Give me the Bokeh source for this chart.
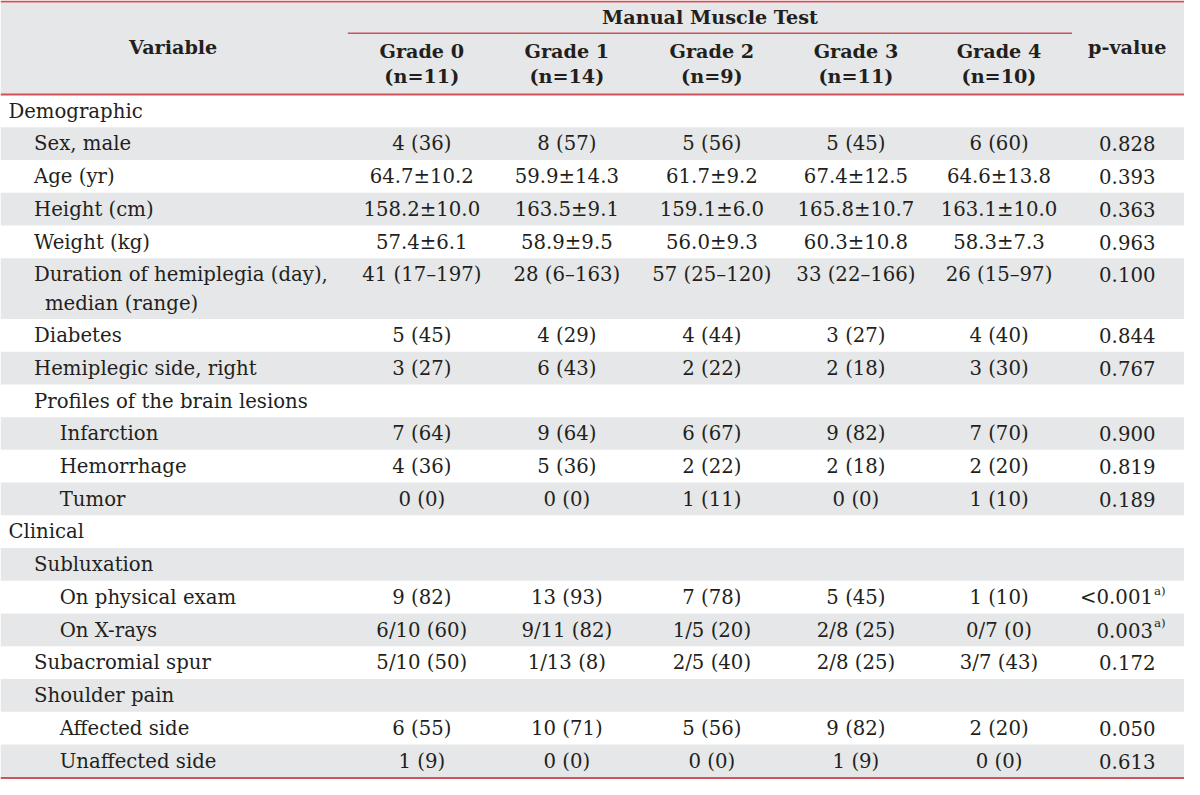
from bokeh.plotting import figure
from bokeh.models import Range1d, ColumnDataSource
from bokeh.core.properties import value
from bokeh.embed import file_html
from bokeh.resources import INLINE

# ---------------- data ----------------
labels = ["Demographic", "Sex, male", "Age (yr)", "Height (cm)", "Weight (kg)",
          "Duration of hemiplegia (day),\nmedian (range)", "Diabetes",
          "Hemiplegic side, right", "Profiles of the brain lesions",
          "Infarction", "Hemorrhage", "Tumor", "Clinical", "Subluxation",
          "On physical exam", "On X-rays", "Subacromial spur", "Shoulder pain",
          "Affected side", "Unaffected side"]
levels = [0, 1, 1, 1, 1, 1, 1, 1, 1, 2, 2, 2, 0, 1, 2, 2, 1, 1, 2, 2]

grade_headers = ["Grade 0", "Grade 1", "Grade 2", "Grade 3", "Grade 4"]
grade_n = ["(n=11)", "(n=14)", "(n=9)", "(n=11)", "(n=10)"]

grade0 = ["", "4 (36)", "64.7±10.2", "158.2±10.0", "57.4±6.1", "41 (17–197)", "5 (45)", "3 (27)", "",
          "7 (64)", "4 (36)", "0 (0)", "", "", "9 (82)", "6/10 (60)", "5/10 (50)", "", "6 (55)", "1 (9)"]
grade1 = ["", "8 (57)", "59.9±14.3", "163.5±9.1", "58.9±9.5", "28 (6–163)", "4 (29)", "6 (43)", "",
          "9 (64)", "5 (36)", "0 (0)", "", "", "13 (93)", "9/11 (82)", "1/13 (8)", "", "10 (71)", "0 (0)"]
grade2 = ["", "5 (56)", "61.7±9.2", "159.1±6.0", "56.0±9.3", "57 (25–120)", "4 (44)", "2 (22)", "",
          "6 (67)", "2 (22)", "1 (11)", "", "", "7 (78)", "1/5 (20)", "2/5 (40)", "", "5 (56)", "0 (0)"]
grade3 = ["", "5 (45)", "67.4±12.5", "165.8±10.7", "60.3±10.8", "33 (22–166)", "3 (27)", "2 (18)", "",
          "9 (82)", "2 (18)", "0 (0)", "", "", "5 (45)", "2/8 (25)", "2/8 (25)", "", "9 (82)", "1 (9)"]
grade4 = ["", "6 (60)", "64.6±13.8", "163.1±10.0", "58.3±7.3", "26 (15–97)", "4 (40)", "3 (30)", "",
          "7 (70)", "2 (20)", "1 (10)", "", "", "1 (10)", "0/7 (0)", "3/7 (43)", "", "2 (20)", "0 (0)"]
pvalues = ["", "0.828", "0.393", "0.363", "0.963", "0.100", "0.844", "0.767", "",
           "0.900", "0.819", "0.189", "", "", "<0.001", "0.003", "0.172", "", "0.050", "0.613"]
pnotes = ["", "", "", "", "", "", "", "", "", "", "", "", "", "", "a)", "a)", "", "", "", ""]

# ---------------- layout ----------------
W, H = 1184, 779
FONT = value("DejaVu Serif")
TXT = "#231f20"
GRAY = "#e6e7e8"
RED = "#d0525b"
s = W / 1200.0
fs = lambda px: "%.1fpx" % (px * s)

p = figure(width=W, height=H, x_range=Range1d(0, 1200), y_range=Range1d(795, 0),
           output_backend="svg", toolbar_location=None, min_border=0)
p.axis.visible = False
p.grid.visible = False
p.outline_line_color = None
p.background_fill_color = "white"
p.border_fill_color = "white"

col_x = [427, 574, 721, 867, 1012]
p_x = 1142
single_h, double_h, body_top = 33.4, 62.0, 96.0

tops, bottoms = [], []
y = body_top
for lab in labels:
    h = double_h if "\n" in lab else single_h
    tops.append(y)
    bottoms.append(y + h)
    y += h

# header background
p.quad(left=[0], right=[1200], top=[2], bottom=[96], fill_color=GRAY, line_color=None)
# striped body rows
gt = [t for i, t in enumerate(tops) if i % 2 == 1]
gb = [b for i, b in enumerate(bottoms) if i % 2 == 1]
p.quad(left=[0] * len(gt), right=[1200] * len(gt), top=gt, bottom=gb, fill_color=GRAY, line_color=None)

# red rules
p.segment(x0=[0, 0, 0], x1=[1200, 1200, 1200], y0=[1, 96, bottoms[-1] + 0.8], y1=[1, 96, bottoms[-1] + 0.8],
          line_color=RED, line_width=2)
p.segment(x0=[352], x1=[1086], y0=[33.5], y1=[33.5], line_color=RED, line_width=1.5)

# header texts
hx = [175, 719, 1142] + col_x + col_x
hy = [48, 17, 48] + [52] * 5 + [78] * 5
ht = ["Variable", "Manual Muscle Test", "p-value"] + grade_headers + grade_n
p.text(x=hx, y=hy, text=ht, text_font=FONT, text_font_style="bold", text_font_size=fs(19.5),
       text_align="center", text_baseline="middle", text_color=TXT)

# variable labels
lx, ly, lt = [], [], []
indent = {0: 8, 1: 34, 2: 60}
for lab, lev, t in zip(labels, levels, tops):
    lines = lab.split("\n")
    for k, ln in enumerate(lines):
        lx.append(indent[lev] + (11 if k else 0))
        ly.append(t + 17 + 29 * k)
        lt.append(ln)
p.text(x=lx, y=ly, text=lt, text_font=FONT, text_font_size=fs(20), text_align="left",
       text_baseline="middle", text_color=TXT)

# values
vx, vy, vt = [], [], []
for cx, col in zip(col_x, [grade0, grade1, grade2, grade3, grade4]):
    for v, t in zip(col, tops):
        if v:
            vx.append(cx); vy.append(t + 17); vt.append(v)
p.text(x=vx, y=vy, text=vt, text_font=FONT, text_font_size=fs(20), text_align="center",
       text_baseline="middle", text_color=TXT)

# p-values
px_c, py_c, pt_c = [], [], []
px_r, py_r, pt_r = [], [], []
nx, ny, nt = [], [], []
for v, n, t in zip(pvalues, pnotes, tops):
    if not v:
        continue
    if n:
        px_r.append(1168); py_r.append(t + 17); pt_r.append(v)
        nx.append(1169); ny.append(t + 10); nt.append(n)
    else:
        px_c.append(p_x); py_c.append(t + 17); pt_c.append(v)
p.text(x=px_c, y=py_c, text=pt_c, text_font=FONT, text_font_size=fs(20), text_align="center",
       text_baseline="middle", text_color=TXT)
p.text(x=px_r, y=py_r, text=pt_r, text_font=FONT, text_font_size=fs(20), text_align="right",
       text_baseline="middle", text_color=TXT)
p.text(x=nx, y=ny, text=nt, text_font=FONT, text_font_size=fs(12), text_align="left",
       text_baseline="middle", text_color=TXT)

open("out.html", "w").write(file_html(p, INLINE))
